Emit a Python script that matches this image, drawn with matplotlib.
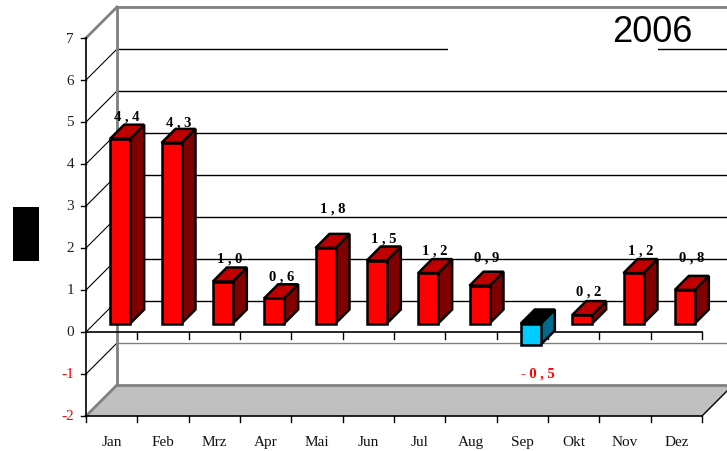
import matplotlib
matplotlib.use("Agg")
import matplotlib.pyplot as plt
from matplotlib.patches import Polygon, Rectangle

months = ["Jan", "Feb", "Mrz", "Apr", "Mai", "Jun", "Jul", "Aug", "Sep", "Okt", "Nov", "Dez"]
values = [4.4, 4.3, 1.0, 0.6, 1.8, 1.5, 1.2, 0.9, -0.5, 0.2, 1.2, 0.8]
value_labels = ["4 , 4", "4 , 3", "1 , 0", "0 , 6", "1 , 8", "1 , 5",
                "1 , 2", "0 , 9", "- 0 , 5", "0 , 2", "1 , 2", "0 , 8"]
y_ticks = [7, 6, 5, 4, 3, 2, 1, 0, -1, -2]
year = "2006"

# label distance above the bar (pixels), Excel placed some of them higher
label_lift = [5, 3, 6, 5, 22, 5, 6, 11, 32, 7, 6, 15]

W, H = 727, 452
PX_X = 616 / 12.0       # pixels per category
PX_Y = 42.0             # pixels per unit
WALL = 31.0             # depth of the 3d box in pixels
DX, DY = WALL / PX_X, WALL / PX_Y
D0, D1 = 8.5 / WALL, 22.5 / WALL   # depth range of the bars
HW = 10.0 / PX_X        # half bar width
YMIN, YMAX = -2, 7
NCAT = len(months)


def obl(x, y, d):
    return (x + d * DX, y + d * DY)


fig = plt.figure(figsize=(W / 100, H / 100), dpi=100)
ax = fig.add_axes([0, 0, 1, 1])
x0 = -86 / PX_X
y0 = YMIN - 35 / PX_Y
ax.set_xlim(x0, x0 + W / PX_X)
ax.set_ylim(y0, y0 + H / PX_Y)
ax.axis("off")

# floor
floor = [obl(0, YMIN, 0), obl(0, YMIN, 1), obl(NCAT, YMIN, 1), obl(NCAT, YMIN, 0)]
ax.add_patch(Polygon(floor, closed=True, facecolor="#c0c0c0", edgecolor="none", zorder=1))
ax.plot([floor[1][0], floor[2][0]], [floor[1][1], floor[2][1]], color="#808080", lw=2, zorder=2)
ax.plot([floor[2][0], floor[3][0]], [floor[2][1], floor[3][1]], color="black", lw=1, zorder=2)
ax.plot([floor[0][0], floor[1][0]], [floor[0][1], floor[1][1]], color="#808080", lw=2, zorder=2)

# back wall grid and side wall diagonals
for v in y_ticks:
    if v == YMIN:
        continue
    a = obl(0, v, 0)
    b = obl(0, v, 1)
    c = obl(NCAT, v, 1)
    edge = v == YMAX
    ax.plot([a[0], b[0]], [a[1], b[1]], color="#808080" if edge else "black",
            lw=2 if edge else 0.8, zorder=2)
    ax.plot([b[0], c[0]], [b[1], c[1]], color="#808080" if edge or v == -1 else "black",
            lw=2 if edge else 1, zorder=2)

# title box hides part of the top grid line
ax.add_patch(Rectangle((448 / PX_X + x0, 6 + DY - 0.12), 210 / PX_X, 0.24,
                       facecolor="white", edgecolor="none", zorder=3))

# back wall left edge
ax.plot([DX, DX], [YMIN + DY, YMAX + DY], color="#808080", lw=2, zorder=2)

# front value axis
ax.plot([0, 0], [YMIN, YMAX], color="black", lw=1.2, zorder=6)
for v in y_ticks:
    ax.plot([-5 / PX_X, 0], [v, v], color="black", lw=1, zorder=6)
    ax.text(-12 / PX_X, v, str(v), ha="right", va="center", fontsize=11,
            family="Liberation Serif", color="red" if v < 0 else "#222222")

# category axes: front floor edge and zero line
ax.plot([0, NCAT], [YMIN, YMIN], color="black", lw=1.2, zorder=6)
ax.plot([0, NCAT], [0, 0], color="black", lw=1.2, zorder=2)
for k in range(NCAT + 1):
    ax.plot([k, k], [YMIN, YMIN - 6 / PX_Y], color="black", lw=1, zorder=6)
    if k > 0:
        ax.plot([k, k], [0, -7 / PX_Y], color="black", lw=1, zorder=2)
for i, m in enumerate(months):
    ax.text(i + 0.5, YMIN - 26 / PX_Y, m, ha="center", va="center", fontsize=11,
            family="Liberation Serif", color="#111111")

# bars
for i, v in enumerate(values):
    c = i + 0.5
    neg = v < 0
    front_c = "#00ccff" if neg else "#ff0000"
    top_c = "#000000" if neg else "#c00000"
    side_c = "#006a8a" if neg else "#800000"
    lo, hi = min(0, v), max(0, v)
    side = [obl(c + HW, lo, D0), obl(c + HW, lo, D1), obl(c + HW, hi, D1), obl(c + HW, hi, D0)]
    top = [obl(c - HW, hi, D0), obl(c - HW, hi, D1), obl(c + HW, hi, D1), obl(c + HW, hi, D0)]
    front = [obl(c - HW, lo, D0), obl(c - HW, hi, D0), obl(c + HW, hi, D0), obl(c + HW, lo, D0)]
    for pts, col in ((side, side_c), (top, top_c), (front, front_c)):
        ax.add_patch(Polygon(pts, closed=True, facecolor=col, edgecolor="black",
                             lw=1.8, joinstyle="miter", zorder=4))

    lx, ly = obl(c, v, 0.5)
    if neg:
        ax.text(lx, obl(c, v, D0)[1] - label_lift[i] / PX_Y, value_labels[i], ha="center",
                va="baseline", fontsize=10.5, fontweight="bold", family="Liberation Serif",
                color="red", zorder=7)
    else:
        ax.text(lx, obl(c, v, D1)[1] + label_lift[i] / PX_Y, value_labels[i], ha="center",
                va="baseline", fontsize=10.5, fontweight="bold", family="Liberation Serif",
                color="black", zorder=7)

fig.text(652 / W, 1 - 33 / H, year, ha="center", va="center", fontsize=26,
         family="Liberation Sans", color="black")

# black box where the axis title sits
fig.add_artist(Rectangle((13 / W, 1 - 262 / H), 26 / W, 54 / H, transform=fig.transFigure,
                         facecolor="black", edgecolor="none"))

fig.savefig("out.png", dpi=100)
